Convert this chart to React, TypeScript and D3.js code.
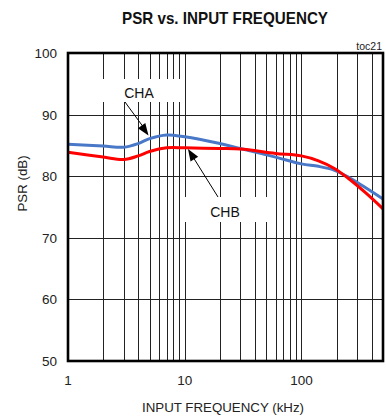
import React from "react";
import * as d3 from "d3";

const freqs = [1, 2, 3, 4, 5, 7, 10, 20, 30, 60, 100, 140, 190, 250, 350, 500];
const chaValues = [85.2, 84.9, 84.7, 85.3, 86.1, 86.7, 86.4, 85.3, 84.5, 83.1, 82.0, 81.6, 81.0, 79.9, 78.2, 76.3];
const chbValues = [83.9, 83.1, 82.7, 83.3, 84.0, 84.6, 84.6, 84.5, 84.4, 83.7, 83.3, 82.5, 81.3, 79.7, 77.4, 74.7];
const yTicks = [50, 60, 70, 80, 90, 100];
const xTicks = [1, 10, 100];
const xGrid = [2, 3, 4, 5, 6, 7, 8, 9, 10, 20, 30, 40, 50, 60, 70, 80, 90, 100, 200, 300, 400];

const W = 386;
const H = 418;
const L = 68, R = 383, T = 53, B = 361;
const FONT = "Liberation Sans, Arial, Helvetica, sans-serif";

export default function App() {
  const x = d3.scaleLog().domain([1, 500]).range([L, R]);
  const y = d3.scaleLinear().domain([50, 100]).range([B, T]);
  const line = d3
    .line<number>()
    .x((_, i) => x(freqs[i]))
    .y((d) => y(d))
    .curve(d3.curveCatmullRom.alpha(0.5));

  const arrowHead = (x1: number, y1: number, x2: number, y2: number) => {
    const a = Math.atan2(y2 - y1, x2 - x1);
    const len = 12, w = 4.5;
    const bx = x2 - len * Math.cos(a), by = y2 - len * Math.sin(a);
    const px = -Math.sin(a) * w, py = Math.cos(a) * w;
    return `M${x2},${y2}L${bx + px},${by + py}L${bx - px},${by - py}Z`;
  };

  return (
    <svg width={W} height={H} style={{ position: "absolute", left: 0, top: 0, background: "#fff" }}>
      <rect x={0} y={0} width={W} height={H} fill="#fff" />
      <text x={225} y={24} textAnchor="middle" fontFamily={FONT} fontWeight="bold" fontSize={17} textLength={206} lengthAdjust="spacingAndGlyphs" fill="#111">
        PSR vs. INPUT FREQUENCY
      </text>
      <text x={382} y={50} textAnchor="end" fontFamily={FONT} fontSize={10.5} fill="#222">toc21</text>
      {xGrid.map((f) => (
        <line key={"vx" + f} x1={Math.round(x(f)) + 0.5} x2={Math.round(x(f)) + 0.5} y1={T} y2={B} stroke="#222" strokeWidth={1} />
      ))}
      {yTicks.slice(1, -1).map((v) => (
        <line key={"hy" + v} x1={L} x2={R} y1={Math.round(y(v)) + 0.5} y2={Math.round(y(v)) + 0.5} stroke="#222" strokeWidth={1} />
      ))}
      <rect x={88} y={79} width={94} height={23} fill="#fff" />
      <rect x={182} y={197} width={90} height={25} fill="#fff" />
      <path d={line(chaValues) || ""} fill="none" stroke="#4a78c8" strokeWidth={3} />
      <path d={line(chbValues) || ""} fill="none" stroke="#ff0000" strokeWidth={3} />
      <text x={139} y={98} textAnchor="middle" fontFamily={FONT} fontSize={14} fill="#111">CHA</text>
      <text x={225} y={217} textAnchor="middle" fontFamily={FONT} fontSize={14} fill="#111">CHB</text>
      <line x1={125} y1={102} x2={144} y2={128} stroke="#000" strokeWidth={1} />
      <path d={arrowHead(125, 102, 148.5, 135.5)} fill="#000" />
      <line x1={218} y1={197} x2={193} y2={157} stroke="#000" strokeWidth={1} />
      <path d={arrowHead(218, 197, 188, 149)} fill="#000" />
      <rect x={L} y={T} width={R - L} height={B - T} fill="none" stroke="#000" strokeWidth={2.6} />
      {yTicks.map((v) => (
        <text key={"yt" + v} x={57} y={y(v) + 5} textAnchor="end" fontFamily={FONT} fontSize={13.5} fill="#222">{v}</text>
      ))}
      {xTicks.map((f) => (
        <text key={"xt" + f} x={x(f)} y={385} textAnchor="middle" fontFamily={FONT} fontSize={13.5} fill="#222">{f}</text>
      ))}
      <text x={223} y={411.5} textAnchor="middle" fontFamily={FONT} fontSize={13.3} fill="#222">INPUT FREQUENCY (kHz)</text>
      <text transform="translate(26.5,183.5) rotate(-90)" textAnchor="middle" fontFamily={FONT} fontSize={13.3} fill="#222">PSR (dB)</text>
    </svg>
  );
}
